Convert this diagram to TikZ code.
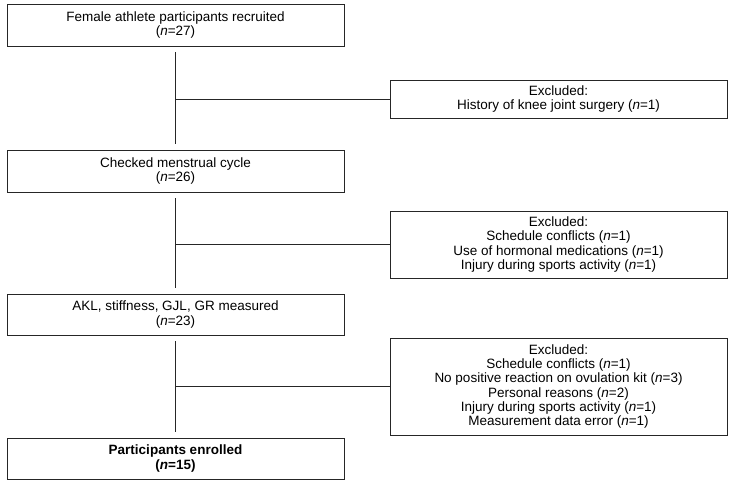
\documentclass[tikz,border=0pt]{standalone}
\usepackage{fontspec}
\setmainfont{Liberation Sans}
\begin{document}
\begin{tikzpicture}[x=1pt,y=-1pt,
  every node/.style={font=\fontsize{13.5}{14.3}\selectfont, align=center, inner sep=0pt},
  mainbox/.style={draw=black!85, line width=0.8pt, minimum width=337pt},
  exbox/.style={draw=black!85, line width=0.8pt, minimum width=337pt},
  conn/.style={draw=black!85, line width=0.8pt}]
\useasboundingbox (0,0) rectangle (736,484);
\node[mainbox, minimum height=42pt] (b1) at (175.5,25) {Female athlete participants recruited\\(\textit{n}=27)};
\node[mainbox, minimum height=42pt] (b2) at (175.5,171) {Checked menstrual cycle\\(\textit{n}=26)};
\node[mainbox, minimum height=41pt] (b3) at (175.5,314.5) {AKL, stiffness, GJL, GR measured\\(\textit{n}=23)};
\node[mainbox, minimum height=41pt] (b4) at (175.5,458.5) {\textbf{Participants enrolled}\\\textbf{(\textit{n}=15)}};
\node[exbox, minimum height=38pt] (e1) at (558.5,99) {Excluded:\\History of knee joint surgery (\textit{n}=1)};
\node[exbox, minimum height=67pt] (e2) at (558.5,244.5) {Excluded:\\Schedule conflicts (\textit{n}=1)\\Use of hormonal medications (\textit{n}=1)\\Injury during sports activity (\textit{n}=1)};
\node[exbox, minimum height=97pt] (e3) at (558.5,386.5) {Excluded:\\Schedule conflicts (\textit{n}=1)\\No positive reaction on ovulation kit (\textit{n}=3)\\Personal reasons (\textit{n}=2)\\Injury during sports activity (\textit{n}=1)\\Measurement data error (\textit{n}=1)};
\draw[conn] ([yshift=-6pt]b1.south) -- ([yshift=6pt]b2.north);
\draw[conn] ([yshift=-6pt]b2.south) -- ([yshift=6pt]b3.north);
\draw[conn] ([yshift=-6pt]b3.south) -- ([yshift=6pt]b4.north);
\draw[conn] (b1.south |- e1.west) -- (e1.west);
\draw[conn] (b2.south |- e2.west) -- (e2.west);
\draw[conn] (b3.south |- e3.west) -- (e3.west);
\end{tikzpicture}
\end{document}
